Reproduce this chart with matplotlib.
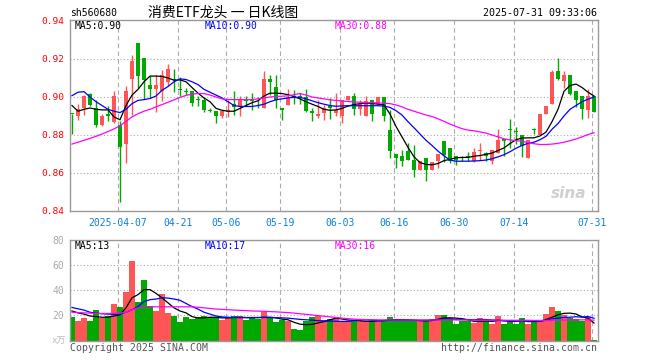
import numpy as np
import matplotlib.pyplot as plt

plt.rcParams['font.family'] = ['DejaVu Sans Mono', 'Noto Sans CJK SC']

# ---- data (88 trading days, 2025-03-25 .. 2025-07-31)
opens = [0.8913, 0.8898, 0.8942, 0.9018, 0.8942, 0.8854, 0.8912, 0.8867, 0.8851, 0.8754,
         0.9095, 0.9286, 0.9205, 0.9065, 0.9044, 0.9030, 0.9077, 0.9093, 0.9042, 0.9030,
         0.9030, 0.8988, 0.8986, 0.8933, 0.8925, 0.8898, 0.8919, 0.8965, 0.8951, 0.8989,
         0.8986, 0.8986, 0.8942, 0.9095, 0.9053, 0.8942, 0.8956, 0.9007, 0.9004, 0.9000,
         0.8925, 0.8902, 0.8916, 0.8951, 0.8916, 0.8902, 0.8986, 0.9007, 0.8937, 0.8902,
         0.8986, 0.8965, 0.8998, 0.8825, 0.8702, 0.8691, 0.8714, 0.8670, 0.8614, 0.8679,
         0.8614, 0.8661, 0.8767, 0.8732, 0.8688, 0.8676, 0.8688, 0.8661, 0.8714, 0.8705,
         0.8661, 0.8705, 0.8779, 0.8832, 0.8823, 0.8802, 0.8679, 0.8828, 0.8802, 0.8912,
         0.8965, 0.9137, 0.9084, 0.9116, 0.9033, 0.9005, 0.8932, 0.9005]
highs = [0.8913, 0.8963, 0.9012, 0.9021, 0.8986, 0.8912, 0.8954, 0.9030, 0.8872, 0.9056,
         0.9223, 0.9286, 0.9205, 0.9112, 0.9118, 0.9144, 0.9175, 0.9147, 0.9105, 0.9047,
         0.9030, 0.9004, 0.9000, 0.8942, 0.8925, 0.8933, 0.8986, 0.9030, 0.9007, 0.9007,
         0.9021, 0.9000, 0.9139, 0.9118, 0.9118, 0.8942, 0.9042, 0.9035, 0.9021, 0.9042,
         0.8942, 0.8986, 0.8960, 0.8995, 0.9021, 0.8986, 0.9007, 0.9021, 0.8986, 0.9007,
         0.8986, 0.8998, 0.8998, 0.8933, 0.8702, 0.8723, 0.8758, 0.8746, 0.8661, 0.8679,
         0.8658, 0.8702, 0.8767, 0.8732, 0.8688, 0.8688, 0.8709, 0.8732, 0.8758, 0.8709,
         0.8723, 0.8832, 0.8779, 0.8884, 0.8842, 0.8802, 0.8775, 0.8835, 0.8912, 0.8954,
         0.9140, 0.9205, 0.9135, 0.9116, 0.9033, 0.9005, 0.9042, 0.9005]
lows = [0.8807, 0.8881, 0.8907, 0.8951, 0.8842, 0.8849, 0.8872, 0.8863, 0.8446, 0.8653,
        0.8907, 0.9046, 0.8989, 0.8995, 0.8921, 0.8977, 0.9056, 0.9025, 0.9004, 0.9012,
        0.8950, 0.8951, 0.8919, 0.8919, 0.8863, 0.8890, 0.8895, 0.8907, 0.8898, 0.8951,
        0.8930, 0.8942, 0.8942, 0.9012, 0.8942, 0.8881, 0.8956, 0.8963, 0.8963, 0.8919,
        0.8872, 0.8888, 0.8881, 0.8886, 0.8898, 0.8863, 0.8986, 0.8907, 0.8907, 0.8902,
        0.8872, 0.8965, 0.8872, 0.8679, 0.8625, 0.8635, 0.8670, 0.8579, 0.8614, 0.8556,
        0.8614, 0.8625, 0.8656, 0.8652, 0.8643, 0.8663, 0.8661, 0.8656, 0.8670, 0.8661,
        0.8649, 0.8705, 0.8688, 0.8732, 0.8753, 0.8684, 0.8679, 0.8807, 0.8802, 0.8912,
        0.8965, 0.9088, 0.9047, 0.9012, 0.8945, 0.8884, 0.8889, 0.8921]
closes = [0.8910, 0.8937, 0.9007, 0.8956, 0.8854, 0.8902, 0.8898, 0.9007, 0.8735, 0.9033,
          0.9188, 0.9110, 0.9088, 0.9044, 0.9065, 0.9118, 0.9147, 0.9090, 0.9038, 0.9028,
          0.8968, 0.8985, 0.8933, 0.8925, 0.8898, 0.8925, 0.8933, 0.8947, 0.8982, 0.8981,
          0.8977, 0.8982, 0.9095, 0.9077, 0.8986, 0.8933, 0.9000, 0.9000, 0.9000, 0.8925,
          0.8916, 0.8912, 0.8942, 0.8942, 0.8933, 0.8986, 0.9007, 0.8937, 0.8965, 0.8977,
          0.8912, 0.8998, 0.8898, 0.8714, 0.8679, 0.8661, 0.8670, 0.8614, 0.8661, 0.8614,
          0.8658, 0.8702, 0.8696, 0.8661, 0.8670, 0.8672, 0.8686, 0.8709, 0.8723, 0.8688,
          0.8723, 0.8775, 0.8767, 0.8828, 0.8818, 0.8744, 0.8775, 0.8826, 0.8912, 0.8954,
          0.9130, 0.9093, 0.9116, 0.9018, 0.8986, 0.8937, 0.9005, 0.8923]

ma5 = [0.8955, 0.8925, 0.8935, 0.8942, 0.8935, 0.8932, 0.8932, 0.8895, 0.8880, 0.8955,
       0.9010, 0.9040, 0.9080, 0.9110, 0.9110, 0.9108, 0.9100, 0.9088, 0.9090, 0.9080,
       0.9050, 0.9020, 0.8995, 0.8975, 0.8940, 0.8930, 0.8925, 0.8925, 0.8940, 0.8955,
       0.8970, 0.8980, 0.9005, 0.9020, 0.9020, 0.9018, 0.9012, 0.9002, 0.8990, 0.8975,
       0.8962, 0.8950, 0.8935, 0.8930, 0.8932, 0.8940, 0.8952, 0.8960, 0.8965, 0.8968,
       0.8966, 0.8962, 0.8958, 0.8910, 0.8845, 0.8790, 0.8735, 0.8685, 0.8655, 0.8645,
       0.8643, 0.8650, 0.8665, 0.8672, 0.8680, 0.8682, 0.8682, 0.8688, 0.8692, 0.8698,
       0.8705, 0.8718, 0.8732, 0.8755, 0.8775, 0.8784, 0.8785, 0.8785, 0.8795, 0.8815,
       0.8870, 0.8935, 0.9030, 0.9060, 0.9068, 0.9050, 0.9025, 0.9005]
ma10 = [0.9007, 0.9025, 0.9028, 0.9000, 0.8975, 0.8955, 0.8935, 0.8925, 0.8918, 0.8935,
        0.8965, 0.8982, 0.8986, 0.8992, 0.9005, 0.9035, 0.9055, 0.9080, 0.9095, 0.9092,
        0.9080, 0.9065, 0.9040, 0.9025, 0.9010, 0.8995, 0.8975, 0.8955, 0.8950, 0.8950,
        0.8950, 0.8955, 0.8962, 0.8975, 0.8985, 0.8990, 0.8995, 0.8998, 0.8998, 0.8990,
        0.8980, 0.8970, 0.8962, 0.8955, 0.8951, 0.8953, 0.8954, 0.8954, 0.8954, 0.8954,
        0.8954, 0.8954, 0.8952, 0.8945, 0.8928, 0.8905, 0.8870, 0.8838, 0.8805, 0.8772,
        0.8745, 0.8715, 0.8690, 0.8668, 0.8662, 0.8662, 0.8662, 0.8663, 0.8665, 0.8668,
        0.8675, 0.8685, 0.8696, 0.8712, 0.8730, 0.8745, 0.8756, 0.8762, 0.8775, 0.8793,
        0.8830, 0.8860, 0.8900, 0.8935, 0.8955, 0.8975, 0.8988, 0.9000]
ma30 = [0.8752, 0.8762, 0.8772, 0.8782, 0.8793, 0.8805, 0.8818, 0.8832, 0.8848, 0.8872,
        0.8895, 0.8912, 0.8925, 0.8935, 0.8948, 0.8960, 0.8972, 0.8985, 0.8998, 0.9008,
        0.9015, 0.9018, 0.9018, 0.9010, 0.9000, 0.8990, 0.8987, 0.8986, 0.8986, 0.8986,
        0.8986, 0.8990, 0.8995, 0.9000, 0.9003, 0.9004, 0.9006, 0.9012, 0.9018, 0.9010,
        0.9000, 0.8995, 0.8990, 0.8985, 0.8982, 0.8979, 0.8976, 0.8974, 0.8972, 0.8971,
        0.8970, 0.8969, 0.8967, 0.8965, 0.8958, 0.8948, 0.8935, 0.8925, 0.8915, 0.8905,
        0.8897, 0.8885, 0.8872, 0.8857, 0.8845, 0.8833, 0.8826, 0.8822, 0.8816, 0.8810,
        0.8800, 0.8790, 0.8780, 0.8774, 0.8770, 0.8767, 0.8760, 0.8754, 0.8750, 0.8750,
        0.8752, 0.8756, 0.8762, 0.8770, 0.8779, 0.8790, 0.8802, 0.8812]

# volume, 万手
volume = [18.5, 15.3, 18.0, 15.3, 24.2, 18.0, 19.9, 29.0, 26.6, 38.7,
          63.0, 30.6, 48.3, 27.4, 23.4, 37.0, 22.0, 19.3, 14.5, 18.5,
          17.2, 18.5, 19.3, 18.5, 18.5, 16.1, 18.5, 19.3, 19.3, 16.6,
          18.5, 17.2, 22.5, 18.5, 14.5, 16.6, 15.3, 9.1, 8.0, 15.3,
          18.5, 19.3, 16.6, 17.2, 17.2, 15.3, 15.3, 15.3, 15.3, 15.3,
          15.3, 16.6, 16.6, 18.5, 16.6, 15.3, 15.3, 15.3, 16.6, 15.3,
          17.2, 20.1, 20.1, 18.0, 13.4, 15.3, 15.3, 14.0, 18.0, 15.3,
          13.4, 19.3, 13.4, 16.6, 13.4, 18.0, 13.4, 14.5, 16.6, 21.0,
          26.8, 23.4, 20.0, 18.0, 17.2, 15.3, 18.5, 0.5]
vma5 = [23.5, 22.0, 21.0, 19.5, 19.0, 18.5, 18.5, 19.5, 20.5, 26.0,
        34.0, 36.5, 40.5, 40.5, 37.5, 34.0, 30.0, 26.0, 23.5, 22.0,
        19.0, 18.0, 18.0, 18.5, 18.5, 18.0, 18.0, 18.3, 18.5, 18.3,
        18.3, 18.3, 18.5, 18.5, 18.0, 17.0, 16.5, 14.5, 13.0, 12.6,
        12.8, 14.0, 15.0, 16.5, 17.8, 17.1, 16.3, 16.1, 15.7, 15.3,
        15.3, 15.6, 15.8, 16.5, 16.7, 16.6, 16.5, 16.2, 15.8, 15.6,
        15.9, 16.9, 17.9, 18.1, 17.8, 17.4, 16.4, 15.2, 15.2, 15.6,
        15.2, 16.0, 15.9, 15.6, 15.2, 16.1, 15.0, 15.2, 15.2, 16.7,
        18.5, 20.5, 21.6, 21.8, 21.1, 18.8, 17.8, 13.9]
vma10 = [26.3, 25.2, 24.2, 22.5, 21.8, 21.3, 21.0, 20.8, 21.0, 22.5,
         24.5, 27.0, 31.0, 32.5, 33.0, 34.0, 33.8, 33.0, 32.0, 29.5,
         27.0, 25.0, 22.5, 21.0, 19.5, 18.8, 18.5, 18.3, 18.2, 18.2,
         18.2, 18.2, 18.3, 18.3, 18.2, 18.0, 17.8, 17.3, 16.8, 16.5,
         16.2, 15.8, 15.5, 15.5, 15.3, 15.2, 15.2, 15.8, 16.5, 16.5,
         16.2, 15.9, 15.9, 16.1, 16.0, 16.0, 16.0, 16.0, 16.1, 16.1,
         16.3, 16.7, 17.0, 17.0, 16.7, 16.7, 16.7, 16.5, 16.7, 16.7,
         16.3, 16.2, 15.5, 15.4, 15.4, 15.7, 15.5, 15.5, 15.4, 16.0,
         17.3, 17.7, 18.4, 18.5, 18.9, 18.6, 19.1, 17.7]
vma30 = [22.5, 22.3, 22.0, 21.8, 21.6, 21.5, 21.5, 21.6, 21.8, 22.5,
         24.5, 26.0, 26.5, 26.8, 26.8, 26.8, 26.8, 26.8, 26.8, 26.8,
         26.8, 26.5, 26.0, 25.5, 25.0, 24.8, 24.5, 24.2, 24.0, 23.8,
         23.5, 23.4, 23.2, 23.0, 22.8, 22.5, 22.2, 21.8, 21.3, 20.8,
         20.3, 19.8, 19.3, 18.8, 18.3, 17.8, 17.4, 17.0, 16.8, 16.6,
         16.5, 16.4, 16.4, 16.4, 16.3, 16.3, 16.3, 16.3, 16.3, 16.3,
         16.3, 16.3, 16.4, 16.4, 16.4, 16.3, 16.3, 16.2, 16.2, 16.2,
         16.2, 16.2, 16.1, 16.1, 16.1, 16.1, 16.1, 16.0, 16.0, 16.0,
         16.1, 16.2, 16.3, 16.3, 16.4, 16.4, 16.5, 16.2]

tick_idx = [8, 18, 26, 35, 45, 54, 64, 74, 87]
tick_labels = ['2025-04-07', '04-21', '05-06', '05-19', '06-03',
               '06-16', '06-30', '07-14', '07-31']

price_ticks = [0.84, 0.86, 0.88, 0.90, 0.92, 0.94]
vol_ticks = [20, 40, 60, 80]

RED = '#ff5555'
GREEN = '#00a800'
FRAME = '#999999'
GRID = '#aaaaaa'

o = np.array(opens)
h = np.array(highs)
l = np.array(lows)
c = np.array(closes)
x = np.arange(len(c))
up = c >= o
colors = np.where(up, RED, GREEN)

fig = plt.figure(figsize=(6.6, 3.6), dpi=100)
W, H = 660.0, 360.0
ax = fig.add_axes([70 / W, (H - 211) / H, 528 / W, 191 / H])
axv = fig.add_axes([70 / W, (H - 340.5) / H, 528 / W, 100.5 / H])

grid_x = np.array(tick_idx) - 1 / 3.0

for a in (ax, axv):
    a.set_xlim(-1 / 3.0, len(c) - 1 / 3.0)
    for s in a.spines.values():
        s.set_color(FRAME)
        s.set_linewidth(1.0)
    a.set_xticks(grid_x)
    a.tick_params(length=0)
    for gx in grid_x:
        a.axvline(gx, color=GRID, lw=0.8, ls=(0, (4, 3)), zorder=0)

# ---- price panel
ax.set_ylim(0.84, 0.9405)
ax.set_yticks(price_ticks)
ax.set_yticklabels(['%.2f' % v for v in price_ticks], color='red', fontsize=6.8)
ax.tick_params(axis='y', pad=4)
ax.set_xticklabels(tick_labels, color='#0a80d8', fontsize=7)
ax.tick_params(axis='x', pad=5)
for v in price_ticks[1:-1]:
    ax.axhline(v, color=GRID, lw=0.8, ls=(0, (1, 2)), zorder=0)

ax.vlines(x, l, h, colors=colors, lw=1.0, zorder=2)
body = np.maximum(np.abs(c - o), 0.00035)
ax.bar(x, body, bottom=np.minimum(o, c), width=0.78, color=colors,
       linewidth=0, zorder=3)

ax.plot(x, ma5, color='black', lw=0.9, zorder=4)
ax.plot(x, ma10, color='#0000ff', lw=0.9, zorder=4)
ax.plot(x, ma30, color='#ff00ff', lw=0.9, zorder=4)

ax.text(5 / 528, 0.995, 'MA5:0.90', transform=ax.transAxes, fontsize=7,
        color='black', va='top')
ax.text(135 / 528, 0.995, 'MA10:0.90', transform=ax.transAxes, fontsize=7,
        color='#0000ff', va='top')
ax.text(265 / 528, 0.995, 'MA30:0.88', transform=ax.transAxes, fontsize=7,
        color='#ff00ff', va='top')
ax.text(0.945, 0.09, 'sina', transform=ax.transAxes, fontsize=11,
        color='#d0d0d0', style='italic', weight='bold', ha='center',
        va='center', family='DejaVu Sans', zorder=1)

# ---- volume panel
axv.set_ylim(0, 80)
axv.set_yticks(vol_ticks)
axv.set_yticklabels([str(v) for v in vol_ticks], color='#aaaaaa', fontsize=7)
axv.tick_params(axis='y', pad=4)
axv.set_xticklabels([])
for v in vol_ticks[:-1]:
    axv.axhline(v, color=GRID, lw=0.8, ls=(0, (1, 2)), zorder=0)
axv.bar(x, volume, width=0.84, color=colors, linewidth=0, zorder=2)
axv.plot(x, vma5, color='black', lw=0.9, zorder=3)
axv.plot(x, vma10, color='#0000ff', lw=0.9, zorder=3)
axv.plot(x, vma30, color='#ff00ff', lw=0.9, zorder=3)
axv.text(5 / 528, 0.99, 'MA5:13', transform=axv.transAxes, fontsize=7,
         color='black', va='top')
axv.text(135 / 528, 0.99, 'MA10:17', transform=axv.transAxes, fontsize=7,
         color='#0000ff', va='top')
axv.text(265 / 528, 0.99, 'MA30:16', transform=axv.transAxes, fontsize=7,
         color='#ff00ff', va='top')

# ---- header / footer texts
fig.text(70 / W, 1 - 13 / H, 'sh560680', fontsize=7, va='center')
fig.text(223 / W, 1 - 13 / H, '消费ETF龙头 一 日K线图', fontsize=10,
         ha='center', va='center', family=['Noto Sans CJK SC', 'DejaVu Sans'])
fig.text(597 / W, 1 - 13 / H, '2025-07-31 09:33:06', fontsize=7.2,
         ha='right', va='center')
fig.text(66 / W, 1 - 341 / H, 'x万', fontsize=6.5, color='#bbbbbb',
         ha='right', va='center')
fig.text(70 / W, 1 - 348 / H, 'Copyright 2025 SINA.COM', fontsize=7.1,
         color='#555555', va='center')
fig.text(597 / W, 1 - 348 / H, 'http://finance.sina.com.cn', fontsize=7.1,
         color='#555555', ha='right', va='center')

fig.savefig('out.png', dpi=100)
